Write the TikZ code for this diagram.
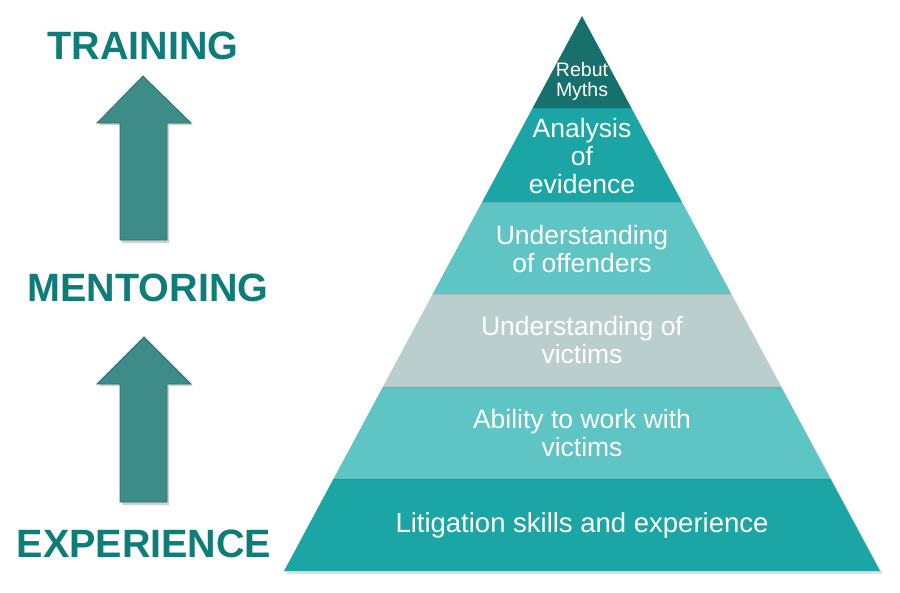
\documentclass[tikz,border=0pt]{standalone}
\usepackage{fontspec}
\setmainfont{Liberation Sans}
\definecolor{tdark}{RGB}{23,112,107}
\definecolor{tmid}{RGB}{27,165,164}
\definecolor{tlight}{RGB}{94,196,196}
\definecolor{tgray}{RGB}{186,206,206}
\definecolor{tarrow}{RGB}{62,140,136}
\definecolor{tarrowedge}{RGB}{40,115,110}
\definecolor{ttext}{RGB}{14,124,120}
\begin{document}
\begin{tikzpicture}[x=1pt,y=-1pt,
  headtxt/.style={text=ttext,font=\fontsize{39.5}{40}\bfseries\selectfont,inner sep=0pt},
  laytxt/.style={text=white,align=center,inner sep=0pt,font=\fontsize{26.5}{28}\selectfont},
  uparrow/.style={fill=tarrow,draw=tarrowedge,line width=0.8pt,line join=miter},
  shade/.style={fill=black,opacity=0.18}]
\useasboundingbox (0,0) rectangle (900,592);
\fill[white] (0,0) rectangle (900,592);

% left headings
\node[headtxt] (training) at (143,46) {TRAINING};
\node[headtxt] (mentoring) at (148,288) {MENTORING};
\node[headtxt] (experience) at (144,544) {EXPERIENCE};

% arrows (shadows then shapes)
\fill[shade] (145,78) -- (193,125) -- (169,125) -- (169,243) -- (122,243) -- (122,125) -- (99,125) -- cycle;
\draw[uparrow] (143,76) -- (191,123) -- (167,123) -- (167,240) -- (120,240) -- (120,123) -- (97,123) -- cycle;
\fill[shade] (146,339) -- (193,386) -- (169,386) -- (169,505) -- (122,505) -- (122,386) -- (99,386) -- cycle;
\draw[uparrow] (144,337) -- (191,384) -- (167,384) -- (167,502) -- (120,502) -- (120,384) -- (97,384) -- cycle;

% pyramid shadow
\fill[shade,opacity=0.12] (582,18) -- (883,574) -- (286,574) -- cycle;

% pyramid layers
\fill[tdark] (582,16) -- (631.4,108) -- (532.6,108) -- cycle;
\fill[tmid] (532.6,108) -- (631.4,108) -- (681.9,202) -- (482.1,202) -- cycle;
\fill[tlight] (482.1,202) -- (681.9,202) -- (731.3,294) -- (432.7,294) -- cycle;
\fill[tgray] (432.7,294) -- (731.3,294) -- (781.2,387) -- (382.8,387) -- cycle;
\fill[tlight] (382.8,387) -- (781.2,387) -- (830.6,479) -- (333.4,479) -- cycle;
\fill[tmid] (333.4,479) -- (830.6,479) -- (880,571) -- (284,571) -- cycle;
% thin separators
\foreach \ya/\xl/\xr in {108/532.6/631.4,202/482.1/681.9,294/432.7/731.3,387/382.8/781.2,479/333.4/830.6}
  \draw[black,opacity=0.08,line width=1pt] (\xl,\ya) -- (\xr,\ya);

% layer labels
\node[laytxt,font=\fontsize{19.5}{20}\selectfont] (rebut) at (582,81) {Rebut\\Myths};
\node[laytxt] (analysis) at (582,156) {Analysis\\of\\evidence};
\node[laytxt] (offenders) at (582,249) {Understanding\\of offenders};
\node[laytxt] (victims) at (582,340) {Understanding of\\victims};
\node[laytxt] (ability) at (582,433) {Ability to work with\\victims};
\node[laytxt,font=\fontsize{27.5}{28}\selectfont] (litigation) at (582,525) {Litigation skills and experience};
\end{tikzpicture}
\end{document}
